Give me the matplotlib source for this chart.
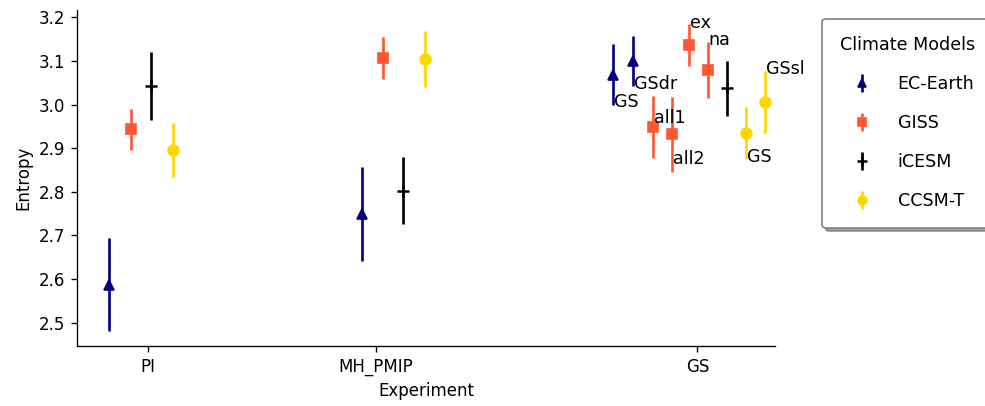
import matplotlib
matplotlib.use("Agg")
import matplotlib.pyplot as plt

# experiments on the x axis
experiments = ["PI", "MH_PMIP", "GS"]
experiment_pos = [0.0, 1.0, 2.41]

models = ["EC-Earth", "GISS", "iCESM", "CCSM-T"]

# per model: x position, entropy mean, error, annotation label
ec_x = [-0.171, 0.939, 2.04, 2.127]
ec_y = [2.587, 2.750, 3.069, 3.100]
ec_err = [0.107, 0.108, 0.070, 0.057]
ec_lab = ["", "", "GS", "GSdr"]

giss_x = [-0.075, 1.031, 2.215, 2.298, 2.373, 2.456]
giss_y = [2.943, 3.106, 2.948, 2.932, 3.136, 3.080]
giss_err = [0.048, 0.048, 0.071, 0.086, 0.048, 0.064]
giss_lab = ["", "", "all1", "all2", "ex", "na"]

icesm_x = [0.013, 1.118, 2.539]
icesm_y = [3.043, 2.803, 3.037]
icesm_err = [0.078, 0.077, 0.064]
icesm_lab = ["", "", ""]

ccsm_x = [0.110, 1.215, 2.623, 2.706]
ccsm_y = [2.895, 3.104, 2.935, 3.006]
ccsm_err = [0.062, 0.064, 0.059, 0.070]
ccsm_lab = ["", "", "GS", "GSsl"]

# label y positions (centre of text) for the GS sensitivity runs
label_y = {
    "GS_ec": 3.006, "GSdr": 3.048,
    "all1": 2.970, "all2": 2.875, "ex": 3.187, "na": 3.148,
    "GS_ccsm": 2.880, "GSsl": 3.081,
}

series = [
    ("EC-Earth", ec_x, ec_y, ec_err, ec_lab, "navy", "^", ["GS_ec", "GSdr"]),
    ("GISS", giss_x, giss_y, giss_err, giss_lab, "#FF5733", "s", ["all1", "all2", "ex", "na"]),
    ("iCESM", icesm_x, icesm_y, icesm_err, icesm_lab, "black", "+", []),
    ("CCSM-T", ccsm_x, ccsm_y, ccsm_err, ccsm_lab, "gold", "o", ["GS_ccsm", "GSsl"]),
]

fig = plt.figure(figsize=(985 / 120, 406 / 120), dpi=120)
ax = fig.add_axes([0.0782, 0.1478, 0.7086, 0.8276])

for name, xs, ys, errs, labs, color, marker, keys in series:
    ax.errorbar(xs, ys, yerr=errs, fmt=marker, color=color, ecolor=color,
                markersize=6.5 if marker != "+" else 7, elinewidth=1.6,
                markeredgewidth=1.5 if marker == "+" else 1, label=name)
    k = 0
    for x, lab in zip(xs, labs):
        if lab:
            ax.text(x + 0.004, label_y[keys[k]], lab, ha="left", va="center",
                    fontsize=10.5)
            k += 1

ax.set_xticks(experiment_pos)
ax.set_xticklabels(experiments)
ax.set_xlim(-0.311, 2.75)
ax.set_ylim(2.4465, 3.217)
ax.set_xlabel("Experiment")
ax.set_ylabel("Entropy")
ax.spines["top"].set_visible(False)
ax.spines["right"].set_visible(False)

leg = ax.legend(title="Climate Models", loc="upper left", bbox_to_anchor=(1.055, 1),
                shadow=True, labelspacing=1.2, borderpad=1.0, handlelength=2.5,
                handletextpad=0.8, markerscale=0.8, framealpha=1,
                fontsize=10.5, title_fontsize=10.5)
leg.get_frame().set_edgecolor("0.5")

fig.savefig("out.png", dpi=120)
